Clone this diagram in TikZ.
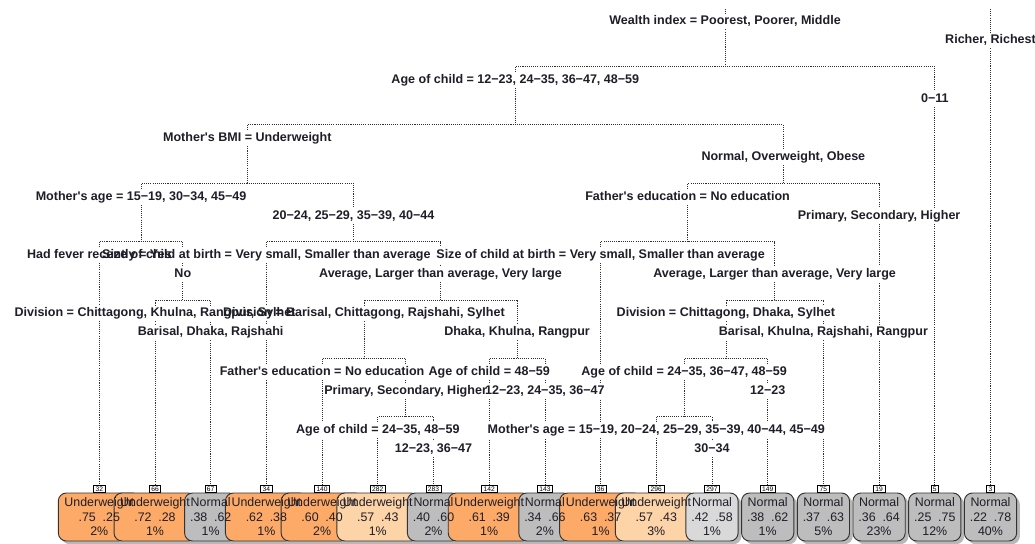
\documentclass[tikz,border=0pt]{standalone}
\usepackage{fontspec}
\setmainfont{Liberation Sans}
\usetikzlibrary{shadows}
\definecolor{orgA}{HTML}{FDAA68}
\definecolor{orgB}{HTML}{FDD3A8}
\definecolor{grA}{HTML}{BDBDBD}
\definecolor{grB}{HTML}{D9D9D9}
\definecolor{txt}{HTML}{1E1E28}
\definecolor{brc}{HTML}{303030}
\newcommand{\ap}{\textquotesingle}
\pgfdeclarelayer{lines}
\pgfdeclarelayer{fills}
\pgfdeclarelayer{boxes}
\pgfsetlayers{lines,fills,boxes,main}
\tikzset{
 lab/.style={font=\fontsize{9.4}{11}\selectfont\bfseries, text=txt, inner xsep=1pt, inner ysep=1.2pt, text height=7pt, text depth=2pt},
 br/.style={draw=brc, line width=0.6pt, dash pattern=on 0.8pt off 0.8pt},
 num/.style={draw=black, fill=white, line width=0.4pt, font=\fontsize{5}{5}\selectfont, inner xsep=1.5pt, inner ysep=0.6pt, minimum height=5.6pt, text height=3.6pt, text depth=0pt},
 leafbox/.style={draw=black!80, line width=0.7pt, rounded corners=6pt, minimum height=36pt, inner xsep=4.6pt, font=\fontsize{9.3}{10.9}\selectfont, drop shadow={shadow xshift=2.4pt, shadow yshift=-2.4pt, fill=black!28, opacity=1}},
 leaftext/.style={align=center, inner sep=0pt, font=\fontsize{9.3}{10.9}\selectfont, text=txt},
}
\begin{document}
\begin{tikzpicture}[x=0.75pt, y=-0.75pt]
\useasboundingbox (0,0) rectangle (1035,543);
% split labels
\node[lab] (L2) at (725.05,21.5) {Wealth index = Poorest, Poorer, Middle};
\node[lab] (L3) at (990.5,40.5) {Richer, Richest};
\node[lab] (L4) at (515.3,79.9) {Age of child = 12−23, 24−35, 36−47, 48−59};
\node[lab] (L5) at (934.8,98.9) {0−11};
\node[lab] (L8) at (247.3,138.3) {Mother\ap s BMI = Underweight};
\node[lab] (L9) at (783.35,157.3) {Normal, Overweight, Obese};
\node[lab] (L16) at (141.1,196.7) {Mother\ap s age = 15−19, 30−34, 45−49};
\node[lab] (L17) at (353.45,215.7) {20−24, 25−29, 35−39, 40−44};
\node[lab] (L18) at (687.6,196.7) {Father\ap s education = No education};
\node[lab] (L19) at (879.1,215.7) {Primary, Secondary, Higher};
\node[lab] (L32) at (99.3,255.1) {Had fever recently = Yes};
\node[lab] (L33) at (182.85,274.1) {No};
\node[lab] (L34) at (266.4,255.1) {Size of child at birth = Very small, Smaller than average};
\node[lab] (L35) at (440.5,274.1) {Average, Larger than average, Very large};
\node[lab] (L36) at (600.6,255.1) {Size of child at birth = Very small, Smaller than average};
\node[lab] (L37) at (774.65,274.1) {Average, Larger than average, Very large};
\node[lab] (L66) at (155.0,313.5) {Division = Chittagong, Khulna, Rangpur, Sylhet};
\node[lab] (L67) at (210.7,332.5) {Barisal, Dhaka, Rajshahi};
\node[lab] (L70) at (363.9,313.5) {Division = Barisal, Chittagong, Rajshahi, Sylhet};
\node[lab] (L71) at (517.05,332.5) {Dhaka, Khulna, Rangpur};
\node[lab] (L74) at (725.9,313.5) {Division = Chittagong, Dhaka, Sylhet};
\node[lab] (L75) at (823.4,332.5) {Barisal, Khulna, Rajshahi, Rangpur};
\node[lab] (L140) at (322.1,371.9) {Father\ap s education = No education};
\node[lab] (L141) at (405.65,390.9) {Primary, Secondary, Higher};
\node[lab] (L142) at (489.2,371.9) {Age of child = 48−59};
\node[lab] (L143) at (544.9,390.9) {12−23, 24−35, 36−47};
\node[lab] (L148) at (684.15,371.9) {Age of child = 24−35, 36−47, 48−59};
\node[lab] (L149) at (767.7,390.9) {12−23};
\node[lab] (L282) at (377.8,430.3) {Age of child = 24−35, 48−59};
\node[lab] (L283) at (433.5,449.3) {12−23, 36−47};
\node[lab] (L296) at (656.3,430.3) {Mother\ap s age = 15−19, 20−24, 25−29, 35−39, 40−44, 45−49};
\node[lab] (L297) at (712.0,449.3) {30−34};
% branch junctions
\coordinate (t2) at (725.05,9);
\coordinate (t3) at (990.5,9);
\coordinate (h2) at (725.05,66.4);
\coordinate (h4) at (515.3,124.8);
\coordinate (h8) at (247.3,183.2);
\coordinate (h9) at (783.35,183.2);
\coordinate (h16) at (141.1,241.6);
\coordinate (h17) at (353.45,241.6);
\coordinate (h18) at (687.6,241.6);
\coordinate (h33) at (182.85,300);
\coordinate (h35) at (440.5,300);
\coordinate (h37) at (774.65,300);
\coordinate (h70) at (363.9,358.4);
\coordinate (h71) at (517.05,358.4);
\coordinate (h74) at (725.9,358.4);
\coordinate (h141) at (405.65,416.8);
\coordinate (h148) at (684.15,416.8);
% leaves: boxes first (layer), texts on top
\foreach \id/\x/\cl/\col/\pa/\pb/\pc in {
 32/99.3/Underweight/orgA/.75/.25/2,
 66/155.0/Underweight/orgA/.72/.28/1,
 67/210.7/Normal/grA/.38/.62/1,
 34/266.4/Underweight/orgA/.62/.38/1,
 140/322.1/Underweight/orgA/.60/.40/2,
 282/377.8/Underweight/orgB/.57/.43/1,
 283/433.5/Normal/grA/.40/.60/2,
 142/489.2/Underweight/orgA/.61/.39/1,
 143/544.9/Normal/grA/.34/.66/2,
 36/600.6/Underweight/orgA/.63/.37/1,
 296/656.3/Underweight/orgB/.57/.43/3,
 297/712.0/Normal/grB/.42/.58/1,
 149/767.7/Normal/grA/.38/.62/1,
 75/823.4/Normal/grA/.37/.63/5,
 19/879.1/Normal/grA/.36/.64/23,
 5/934.8/Normal/grA/.25/.75/12,
 3/990.5/Normal/grA/.22/.78/40}{
 \begin{pgfonlayer}{boxes}
 \node[leafbox, fill=\col] (B\id) at (\x,517) {\phantom{\cl}};
 \end{pgfonlayer}
 \node[leaftext] (T\id) at (B\id.center) {\cl\\\pa\hspace{0.55em}\pb\\\pc\%};
 \node[num] (N\id) at (\x,489) {\id};
}
% white backgrounds of split labels
\begin{pgfonlayer}{fills}
\foreach \n in {L2,L3,L4,L5,L8,L9,L16,L17,L18,L19,L32,L33,L34,L35,L36,L37,L66,L67,L70,L71,L74,L75,L140,L141,L142,L143,L148,L149,L282,L283,L296,L297}
 \fill[white] (\n.south west) rectangle (\n.north east);
\end{pgfonlayer}
% branches
\begin{pgfonlayer}{lines}
\fill[white] (0,0) rectangle (1035,543);
\draw[br] (t2) -- (L2);
\draw[br] (t3) -- (L3);
\foreach \p/\a/\b in {2/4/5, 4/8/9, 8/16/17, 9/18/19, 16/32/33, 17/34/35, 18/36/37, 33/66/67, 35/70/71, 37/74/75, 70/140/141, 71/142/143, 74/148/149, 141/282/283, 148/296/297}{
 \draw[br] (L\p) -- (h\p);
 \draw[br] (L\a) |- (h\p) -| (L\b);
}
\foreach \n in {3,5,19,32,34,36,66,67,75,140,142,143,149,282,283,296,297}
 \draw[br] (L\n) -- (N\n);
\end{pgfonlayer}
\end{tikzpicture}
\end{document}
